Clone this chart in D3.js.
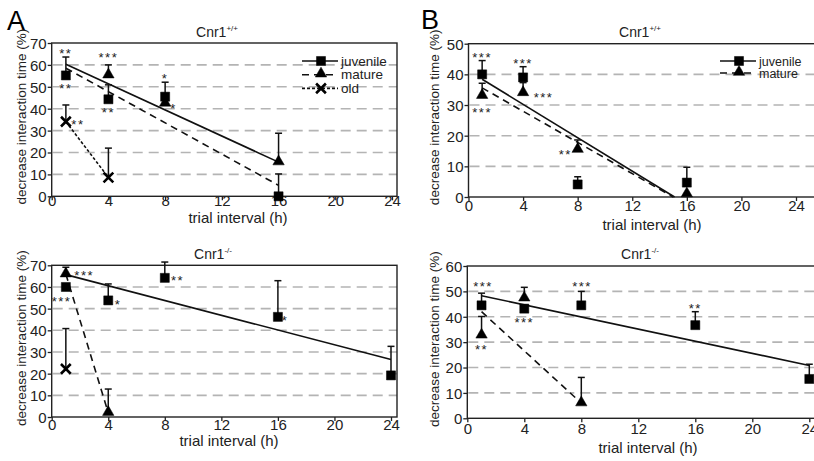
<!DOCTYPE html>
<html>
<head>
<meta charset="utf-8">
<script src="https://cdn.jsdelivr.net/npm/d3@7"></script>
<style>
  body { margin: 0; background: #fff; }
  svg { display: block; font-family: "Liberation Sans", Arial, sans-serif; }
</style>
</head>
<body>
<div id="chart"></div>
<script>
// x ticks (hours)
const hourTicks = [0, 4, 8, 12, 16, 20, 24];

// Panel A, Cnr1+/+
const aWtJuvenile = [{h: 1, v: 55.2, e: 8.4}, {h: 4, v: 44.3, e: 6.6}, {h: 8, v: 45.5, e: 6.6}, {h: 16, v: 0, e: 10.2}];
const aWtMature = [{h: 4, v: 55.1, e: 4.9}, {h: 8, v: 42.2, e: 0}, {h: 16, v: 15.4, e: 13.4}];
const aWtOld = [{h: 1, v: 34.1, e: 7.6}, {h: 4, v: 8.6, e: 13.4}];
const aWtSolidFit = [[1, 60.3], [16, 15.6]];
const aWtDashedFit = [[1, 58.5], [16, 5]];
const aWtDottedFit = [[1, 34.1], [4, 8.6]];
const aWtStars = [
  {h: 1, v: 66.5, t: '**'}, {h: 1, v: 50.2, t: '**'}, {h: 4, v: 64.4, t: '***'},
  {h: 4, v: 39.5, t: '**'}, {h: 8, v: 55, t: '*'}, {h: 8.6, v: 41.4, t: '*'}, {h: 1.85, v: 33.8, t: '**'}
];

// Panel A, Cnr1-/-
const aKoJuvenile = [{h: 1, v: 60, e: 0}, {h: 4, v: 53.8, e: 7.6}, {h: 8, v: 64.2, e: 7.3}, {h: 16, v: 46.2, e: 16.7}, {h: 24, v: 19.2, e: 13.4}];
const aKoMature = [{h: 1, v: 65.7, e: 3.4}, {h: 4, v: 1.8, e: 11.1}];
const aKoOld = [{h: 1, v: 22.2, e: 18.6}];
const aKoSolidFit = [[1, 65.7], [24, 26.5]];
const aKoDashedFit = [[1, 66], [4, 2]];
const aKoStars = [
  {h: 2.3, v: 66.5, t: '***'}, {h: 0.7, v: 54.5, t: '***'}, {h: 4.7, v: 53, t: '*'},
  {h: 8.9, v: 64, t: '**'}, {h: 16.5, v: 45.7, t: '*'}
];

// Panel B, Cnr1+/+
const bWtJuvenile = [{h: 1, v: 40, e: 4.5}, {h: 4, v: 39, e: 3.5}, {h: 8, v: 4.1, e: 2.5}, {h: 16, v: 4.7, e: 5}];
const bWtMature = [{h: 1, v: 32.9, e: 4.2}, {h: 4, v: 33.8, e: 3.5}, {h: 8, v: 15.3, e: 3.3}, {h: 16, v: 0.8, e: 0}];
const bWtSolidFit = [[1, 38.4], [15.1, 0]];
const bWtDashedFit = [[1, 35.6], [15.0, 0]];
const bWtStars = [
  {h: 1, v: 46.3, t: '***'}, {h: 1, v: 28.4, t: '***'}, {h: 4, v: 44.4, t: '***'},
  {h: 5.5, v: 33.3, t: '***'}, {h: 7.1, v: 14.8, t: '**'}
];

// Panel B, Cnr1-/-
const bKoJuvenile = [{h: 1, v: 44.5, e: 4.8}, {h: 4, v: 43.2, e: 0}, {h: 8, v: 44.5, e: 5.5}, {h: 16, v: 36.7, e: 5.3}, {h: 24, v: 15.5, e: 5.8}];
const bKoMature = [{h: 1, v: 32.5, e: 7.6}, {h: 4, v: 47.1, e: 4.5}, {h: 8, v: 5.8, e: 10.3}];
const bKoSolidFit = [[1, 48.3], [24, 20.8]];
const bKoDashedFit = [[1, 42], [8, 6]];
const bKoStars = [
  {h: 1.1, v: 52.9, t: '***'}, {h: 1, v: 27.9, t: '**'}, {h: 4, v: 38.7, t: '***'},
  {h: 8.05, v: 52.9, t: '***'}, {h: 16, v: 44.1, t: '**'}
];

const legendA = ['juvenile', 'mature', 'old'];
const legendB = ['juvenile', 'mature'];

const styles = {
  juvenile: {dash: null, symbol: d3.symbolSquare, size: 82},
  mature: {dash: '7,5', symbol: d3.symbolTriangle, size: 56},
  old: {dash: '3,2', symbol: d3.symbolX, size: 64}
};

const panels = [
  {x0: 51.7, x24: 392, right: 397, y0: 196.3, yTop: 43, yMax: 70, title: '+/+', titleX: 217, titleY: 37,
   tickY: 206, labelY: 223, labelX: 238, ylabX: 21,
   series: {juvenile: aWtJuvenile, mature: aWtMature, old: aWtOld},
   fits: [[aWtSolidFit, 'juvenile'], [aWtDashedFit, 'mature'], [aWtDottedFit, 'old']],
   stars: aWtStars, legend: legendA, legX: 302, legY: 61, legStep: 13.7, legFont: 13.5},
  {x0: 51.7, x24: 391, right: 397, y0: 417, yTop: 265.3, yMax: 70, title: '-/-', titleX: 213, titleY: 259,
   tickY: 430, labelY: 446, labelX: 229, ylabX: 21,
   series: {juvenile: aKoJuvenile, mature: aKoMature, old: aKoOld},
   fits: [[aKoSolidFit, 'juvenile'], [aKoDashedFit, 'mature']],
   stars: aKoStars},
  {x0: 468.5, x24: 796, right: 820, y0: 197, yTop: 43.7, yMax: 50, title: '+/+', titleX: 640, titleY: 37,
   tickY: 211, labelY: 230, labelX: 652, ylabX: 434,
   series: {juvenile: bWtJuvenile, mature: bWtMature},
   fits: [[bWtSolidFit, 'juvenile'], [bWtDashedFit, 'mature']],
   stars: bWtStars, legend: legendB, legX: 720, legY: 61, legStep: 12, legFont: 12.5},
  {x0: 467.3, x24: 809.3, right: 820, y0: 418.3, yTop: 266, yMax: 60, title: '-/-', titleX: 640, titleY: 259,
   tickY: 434, labelY: 453, labelX: 648, ylabX: 434,
   series: {juvenile: bKoJuvenile, mature: bKoMature},
   fits: [[bKoSolidFit, 'juvenile'], [bKoDashedFit, 'mature']],
   stars: bKoStars}
];

const svg = d3.select('#chart').append('svg')
  .attr('width', 814).attr('height', 461);

svg.append('text').attr('x', 7).attr('y', 30).attr('font-size', 27).text('A');
svg.append('text').attr('x', 421).attr('y', 29).attr('font-size', 27).text('B');

panels.forEach(p => {
  const x = d3.scaleLinear().domain([0, 24]).range([p.x0, p.x24]);
  const y = d3.scaleLinear().domain([0, p.yMax]).range([p.y0, p.yTop]);
  const g = svg.append('g');

  // grid lines
  const gridVals = d3.range(10, p.yMax, 10);
  g.selectAll('.grid').data(gridVals).join('line')
    .attr('x1', p.x0 + 1).attr('x2', p.right)
    .attr('y1', d => y(d)).attr('y2', d => y(d))
    .attr('stroke', '#b4b4b4').attr('stroke-width', 1.6)
    .attr('stroke-dasharray', '10,6');

  // axes
  const xAxis = g.append('g').attr('transform', `translate(0,${p.y0})`)
    .call(d3.axisBottom(x).tickValues(hourTicks).tickSize(4).tickSizeOuter(0));
  xAxis.select('.domain').remove();
  xAxis.selectAll('.tick line').attr('stroke', '#222').attr('stroke-width', 1.3);
  xAxis.selectAll('.tick text').attr('y', p.tickY - p.y0).attr('dy', null)
    .attr('font-size', 15).attr('fill', '#222').attr('font-family', null);

  const yAxis = g.append('g').attr('transform', `translate(${p.x0},0)`)
    .call(d3.axisLeft(y).tickValues(d3.range(0, p.yMax + 1, 10)).tickSize(4).tickSizeOuter(0));
  yAxis.select('.domain').remove();
  yAxis.selectAll('.tick line').attr('stroke', '#222').attr('stroke-width', 1.3);
  yAxis.selectAll('.tick text').attr('x', -5).attr('dy', '0.36em')
    .attr('font-size', 15).attr('fill', '#222').attr('font-family', null);

  // frame
  g.append('rect')
    .attr('x', p.x0).attr('y', p.yTop)
    .attr('width', p.right - p.x0).attr('height', p.y0 - p.yTop)
    .attr('fill', 'none').attr('stroke', '#222').attr('stroke-width', 1.4);

  // titles
  const t = g.append('text').attr('x', p.titleX).attr('y', p.titleY)
    .attr('text-anchor', 'middle').attr('font-size', 14).attr('fill', '#222');
  t.append('tspan').text('Cnr1');
  t.append('tspan').attr('dy', -6).attr('font-size', 8).text(p.title);

  g.append('text')
    .attr('x', p.labelX).attr('y', p.labelY)
    .attr('text-anchor', 'middle').attr('font-size', 15).attr('fill', '#222')
    .text('trial interval (h)');

  g.append('text')
    .attr('transform', `translate(${p.ylabX + 5},${(p.y0 + p.yTop) / 2 - 3}) rotate(-90)`)
    .attr('text-anchor', 'middle').attr('font-size', 13.5).attr('fill', '#222')
    .text('decrease interaction time (%)');

  // regression lines
  const line = d3.line().x(d => x(d[0])).y(d => y(d[1]));
  p.fits.forEach(([pts, key]) => {
    g.append('path').attr('d', line(pts))
      .attr('fill', 'none').attr('stroke', '#111').attr('stroke-width', 1.6)
      .attr('stroke-dasharray', styles[key].dash);
  });

  // error bars and markers
  Object.entries(p.series).forEach(([key, pts]) => {
    const bars = pts.filter(d => d.e > 0);
    g.selectAll(null).data(bars).join('line')
      .attr('x1', d => x(d.h)).attr('x2', d => x(d.h))
      .attr('y1', d => y(d.v)).attr('y2', d => y(d.v + d.e))
      .attr('stroke', '#111').attr('stroke-width', 1.5);
    g.selectAll(null).data(bars).join('line')
      .attr('x1', d => x(d.h) - 3.5).attr('x2', d => x(d.h) + 3.5)
      .attr('y1', d => y(d.v + d.e)).attr('y2', d => y(d.v + d.e))
      .attr('stroke', '#111').attr('stroke-width', 1.5);

    const sym = d3.symbol().type(styles[key].symbol).size(styles[key].size);
    g.selectAll(null).data(pts).join('path')
      .attr('transform', d => `translate(${x(d.h)},${y(d.v) + (key === 'mature' ? -1 : 0)})`)
      .attr('d', sym)
      .attr('fill', key === 'old' ? 'none' : '#000')
      .attr('stroke', '#000')
      .attr('stroke-width', key === 'old' ? 2.6 : 0.5);
  });

  // significance stars
  g.selectAll(null).data(p.stars).join('text')
    .attr('x', d => x(d.h)).attr('y', d => y(d.v) + 7)
    .attr('text-anchor', 'middle').attr('font-size', 13).attr('fill', '#222')
    .attr('letter-spacing', 1.5)
    .text(d => d.t);

  // legend
  if (p.legend) {
    p.legend.forEach((key, i) => {
      const ly = p.legY + i * p.legStep;
      g.append('line').attr('x1', p.legX).attr('x2', p.legX + 36)
        .attr('y1', ly).attr('y2', ly)
        .attr('stroke', '#111').attr('stroke-width', 1.6)
        .attr('stroke-dasharray', styles[key].dash);
      g.append('path')
        .attr('transform', `translate(${p.legX + 19},${ly + (key === 'mature' ? -1 : 0)})`)
        .attr('d', d3.symbol().type(styles[key].symbol).size(styles[key].size))
        .attr('fill', key === 'old' ? 'none' : '#000')
        .attr('stroke', '#000').attr('stroke-width', key === 'old' ? 2.6 : 0.5);
      g.append('text').attr('x', p.legX + 39).attr('y', ly + 4.5)
        .attr('font-size', p.legFont).attr('fill', '#222').text(key);
    });
  }
});
</script>
</body>
</html>
